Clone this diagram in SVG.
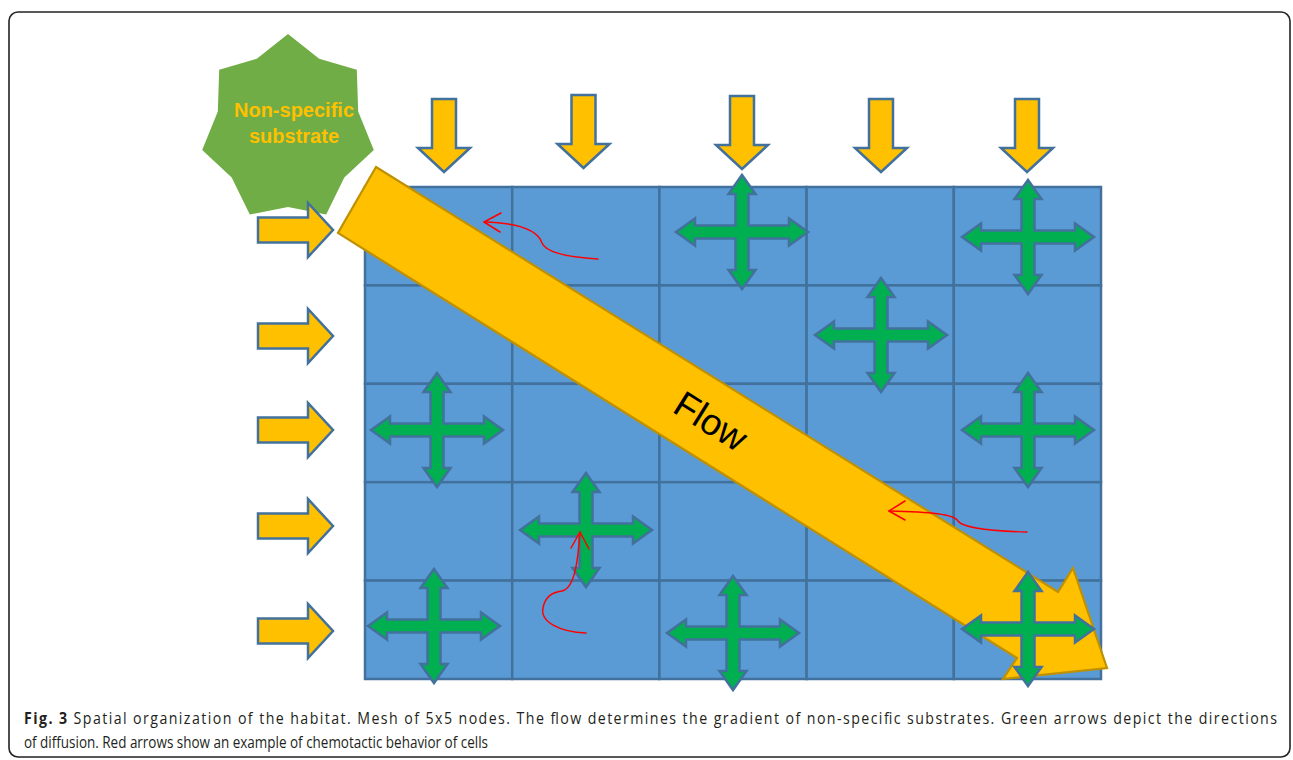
<svg xmlns="http://www.w3.org/2000/svg" width="1293" height="760" viewBox="0 0 1293 760">
<style>
.cell{fill:#5b9bd5;stroke:#41719c;stroke-width:2.5}
.inarrow{fill:#ffc000;stroke:#41719c;stroke-width:2.5;stroke-linejoin:miter}
.cross{fill:#00b050;stroke:#41719c;stroke-width:2.5;stroke-linejoin:miter}
.red{fill:none;stroke:#ff0000;stroke-width:1.5;stroke-linecap:round;stroke-linejoin:round}
.cap{font-family:"Open Sans","Liberation Sans",sans-serif;font-size:16.5px;fill:#231f20}
</style>
<defs>
<path id="down" d="M-12,0 H12 V49 H26 L0,73 L-26,49 H-12 Z"/>
<path id="right" d="M0,-12.5 H50 V-27 L75,0 L50,27 V12.5 H0 Z"/>
<path id="cr" d="M0,-57 L13.5,-38 L6.5,-38 L6.5,-6.5 L47,-6.5 L47,-13.5 L66,0 L47,13.5 L47,6.5 L6.5,6.5 L6.5,38 L13.5,38 L0,57 L-13.5,38 L-6.5,38 L-6.5,6.5 L-47,6.5 L-47,13.5 L-66,0 L-47,-13.5 L-47,-6.5 L-6.5,-6.5 L-6.5,-38 L-13.5,-38 Z"/>
</defs>
<rect x="9" y="12" width="1281" height="745" rx="9" fill="#ffffff" stroke="#222" stroke-width="1.6"/>
<g id="mesh">
<g id="row0">
<rect id="n00" class="cell" x="365" y="187" width="147.2" height="98.4"/>
<rect id="n01" class="cell" x="512.2" y="187" width="147.2" height="98.4"/>
<rect id="n02" class="cell" x="659.4" y="187" width="147.2" height="98.4"/>
<rect id="n03" class="cell" x="806.6" y="187" width="147.2" height="98.4"/>
<rect id="n04" class="cell" x="953.8" y="187" width="147.2" height="98.4"/>
</g>
<g id="row1">
<rect id="n10" class="cell" x="365" y="285.4" width="147.2" height="98.4"/>
<rect id="n11" class="cell" x="512.2" y="285.4" width="147.2" height="98.4"/>
<rect id="n12" class="cell" x="659.4" y="285.4" width="147.2" height="98.4"/>
<rect id="n13" class="cell" x="806.6" y="285.4" width="147.2" height="98.4"/>
<rect id="n14" class="cell" x="953.8" y="285.4" width="147.2" height="98.4"/>
</g>
<g id="row2">
<rect id="n20" class="cell" x="365" y="383.8" width="147.2" height="98.4"/>
<rect id="n21" class="cell" x="512.2" y="383.8" width="147.2" height="98.4"/>
<rect id="n22" class="cell" x="659.4" y="383.8" width="147.2" height="98.4"/>
<rect id="n23" class="cell" x="806.6" y="383.8" width="147.2" height="98.4"/>
<rect id="n24" class="cell" x="953.8" y="383.8" width="147.2" height="98.4"/>
</g>
<g id="row3">
<rect id="n30" class="cell" x="365" y="482.2" width="147.2" height="98.4"/>
<rect id="n31" class="cell" x="512.2" y="482.2" width="147.2" height="98.4"/>
<rect id="n32" class="cell" x="659.4" y="482.2" width="147.2" height="98.4"/>
<rect id="n33" class="cell" x="806.6" y="482.2" width="147.2" height="98.4"/>
<rect id="n34" class="cell" x="953.8" y="482.2" width="147.2" height="98.4"/>
</g>
<g id="row4">
<rect id="n40" class="cell" x="365" y="580.6" width="147.2" height="98.4"/>
<rect id="n41" class="cell" x="512.2" y="580.6" width="147.2" height="98.4"/>
<rect id="n42" class="cell" x="659.4" y="580.6" width="147.2" height="98.4"/>
<rect id="n43" class="cell" x="806.6" y="580.6" width="147.2" height="98.4"/>
<rect id="n44" class="cell" x="953.8" y="580.6" width="147.2" height="98.4"/>
</g>
</g>
<g id="source">
<polygon fill="#70ad47" points="288,34 319.2,58.7 356.8,69.8 358.2,111.6 373.8,150.1 344.3,177.6 326.2,214.6 288,207 249.8,214.6 231.7,177.6 202.2,150.1 217.8,111.6 219.2,69.8 256.8,58.7"/>
<text font-family="'Liberation Sans',Arial,sans-serif" font-weight="bold" font-size="20" fill="#ffc000" text-anchor="middle"><tspan x="294" y="117">Non-specific</tspan><tspan x="294" y="143">substrate</tspan></text>
</g>
<g id="connectors">
<g id="inflow-top">
<use href="#down" class="inarrow" x="444" y="99"/>
<use href="#down" class="inarrow" x="583.5" y="95"/>
<use href="#down" class="inarrow" x="742" y="96"/>
<use href="#down" class="inarrow" x="881" y="99"/>
<use href="#down" class="inarrow" x="1027" y="99"/>
</g>
<g id="inflow-left">
<use href="#right" class="inarrow" x="258" y="230"/>
<use href="#right" class="inarrow" x="258" y="336"/>
<use href="#right" class="inarrow" x="258" y="430"/>
<use href="#right" class="inarrow" x="258" y="526"/>
<use href="#right" class="inarrow" x="258" y="631"/>
</g>
<g id="diffusion">
<use href="#cr" class="cross" x="742" y="232"/>
<use href="#cr" class="cross" x="1028" y="237"/>
<use href="#cr" class="cross" x="881" y="335"/>
<use href="#cr" class="cross" x="437" y="430"/>
<use href="#cr" class="cross" x="1028" y="430"/>
<use href="#cr" class="cross" x="586" y="530"/>
<use href="#cr" class="cross" x="434" y="626"/>
<use href="#cr" class="cross" x="733" y="633"/>
</g>
<g id="flow">
<polygon points="376,167 1058,592 1073,568 1107,668 1003,679 1017,658 338,233" fill="#ffc000" stroke="#bf9000" stroke-width="2.2" stroke-linejoin="miter"/>
<text transform="translate(711,421) rotate(32)" x="0" y="13" text-anchor="middle" font-family="'Liberation Sans',Arial,sans-serif" font-size="37" fill="#000">Flow</text>
</g>
<use href="#cr" class="cross" x="1028" y="629"/>
<g id="chemotaxis">
<path class="red" d="M598,259 C565,257 546,252 542,243 C538,231 520,223 484,222"/>
<polyline class="red" points="501,213 484,222 500,232"/>
<path class="red" d="M1027,532 C990,531 963,528 958,521 C954,514 930,512 889,511"/>
<polyline class="red" points="905,501 889,511 905,520"/>
<path class="red" d="M586,633 C560,632 540,622 543,608 C545,597 553,592 562,591 C575,588 578,560 580,532"/>
<polyline class="red" points="571,548 580,532 589,549"/>
</g>
</g>
<g id="caption" transform="scale(0.86,1)">
<text class="cap" x="27.9" y="724" textLength="1457" lengthAdjust="spacing"><tspan font-weight="bold">Fig. 3</tspan> Spatial organization of the habitat. Mesh of 5x5 nodes. The flow determines the gradient of non-specific substrates. Green arrows depict the directions</text>
<text class="cap" x="27.9" y="748" textLength="539.5" lengthAdjust="spacingAndGlyphs">of diffusion. Red arrows show an example of chemotactic behavior of cells</text>
</g>
</svg>
